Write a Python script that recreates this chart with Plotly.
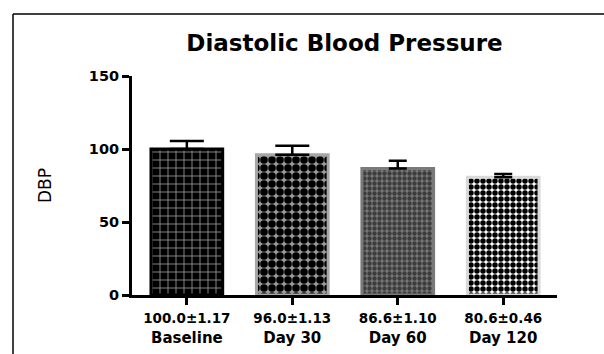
import plotly.graph_objects as go

categories = ["Baseline", "Day 30", "Day 60", "Day 120"]
stats_labels = ["100.0±1.17", "96.0±1.13", "86.6±1.10", "80.6±0.46"]
dbp_values = [100.0, 96.0, 86.6, 80.6]
error_up = [5.5, 6.3, 5.4, 2.3]

border_colors = ["#000000", "#a6a6a6", "#7a7a7a", "#d9d9d9"]
pattern_shapes = ["+", ".", ".", "."]
pattern_bg = ["#000000", "#9a9a9a", "#787878", "#ffffff"]
pattern_fg = ["#9a9a9a", "#000000", "#3c3c3c", "#000000"]
pattern_size = [8, 8, 5, 6]
pattern_solid = [0.2, 0.7, 0.6, 0.65]
cap_width = [17, 17, 9, 9]

FONT = "DejaVu Sans"

fig = go.Figure()
for i, cat in enumerate(categories):
    fig.add_trace(go.Bar(
        x=[i], y=[dbp_values[i]], width=0.68,
        marker=dict(
            color=pattern_bg[i],
            line=dict(color=border_colors[i], width=3),
            pattern=dict(shape=pattern_shapes[i], bgcolor=pattern_bg[i],
                         fgcolor=pattern_fg[i], fgopacity=1,
                         size=pattern_size[i], solidity=pattern_solid[i]),
        ),
        error_y=dict(type="data", array=[error_up[i]], arrayminus=[0],
                     symmetric=False, color="black", thickness=2.5,
                     width=cap_width[i]),
        showlegend=False,
    ))

ticktext = [f"<span style='font-size:13.5px'>{s}</span><br>{c}"
            for s, c in zip(stats_labels, categories)]

fig.update_layout(
    width=604, height=354,
    margin=dict(l=132, r=47, t=76, b=59),
    paper_bgcolor="white", plot_bgcolor="white",
    barmode="overlay",
    title=dict(text="Diastolic Blood Pressure", x=0.5, xref="paper",
               y=1 - 43 / 354, yref="container", yanchor="middle",
               font=dict(family=FONT, size=23, color="black", weight="bold")),
    xaxis=dict(
        range=[-0.52, 3.51], tickmode="array",
        tickvals=list(range(len(categories))), ticktext=ticktext,
        showline=True, linecolor="black", linewidth=3,
        ticks="outside", ticklen=7, tickwidth=3, tickcolor="black",
        showgrid=False, zeroline=False, automargin=False,
        ticklabelstandoff=0,
        tickfont=dict(family=FONT, size=15, color="black", weight="bold"),
    ),
    yaxis=dict(
        range=[0, 150], tickvals=[0, 50, 100, 150],
        showline=True, linecolor="black", linewidth=3,
        ticks="outside", ticklen=7, tickwidth=3, tickcolor="black",
        showgrid=False, zeroline=False, automargin=False,
        tickfont=dict(family=FONT, size=14.5, color="black", weight="bold"),
        title=dict(text="DBP", standoff=33,
                   font=dict(family=FONT, size=17, color="black")),
    ),
    shapes=[
        dict(type="line", xref="paper", yref="paper",
             x0=-0.28, x1=-0.28, y0=-0.5, y1=1.283,
             line=dict(color="black", width=1.5)),
        dict(type="line", xref="paper", yref="paper",
             x0=-0.28, x1=1.2, y0=1.283, y1=1.283,
             line=dict(color="black", width=1.5)),
    ],
)

fig.write_html("out.html", config={"displayModeBar": False},
               post_script="document.body.style.margin='0';")
